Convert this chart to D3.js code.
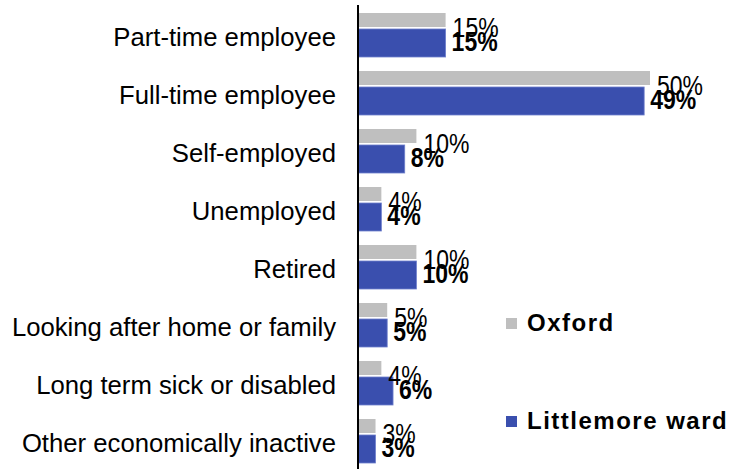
<!DOCTYPE html>
<html>
<head>
<meta charset="utf-8">
<script src="https://cdn.jsdelivr.net/npm/d3@7"></script>
<style>
  body { margin: 0; background: #fff; }
  svg { display: block; font-family: "Liberation Sans", Arial, sans-serif; }
</style>
</head>
<body>
<svg width="729" height="469"></svg>
<script>
// Data
var categories = [
  "Part-time employee",
  "Full-time employee",
  "Self-employed",
  "Unemployed",
  "Retired",
  "Looking after home or family",
  "Long term sick or disabled",
  "Other economically inactive"
];
var oxford = [15, 50, 10, 4, 10, 5, 4, 3];
var littlemore = [15, 49, 8, 4, 10, 5, 6, 3];
var seriesNames = ["Oxford", "Littlemore ward"];
var colors = ["#bfbfbf", "#3a4fae"];

var svg = d3.select("svg");

// scales
var y = d3.scaleBand()
  .domain(categories)
  .range([9, 473]);

var x = d3.scaleLinear()
  .domain([0, 50])
  .range([358, 650]);

var rows = categories.map(function(c, i) {
  return {cat: c, ox: oxford[i], lw: littlemore[i]};
});

// Oxford bars (thin)
svg.selectAll("rect.ox")
  .data(rows)
  .enter()
  .append("rect")
  .attr("class", "ox")
  .attr("x", x(0))
  .attr("y", function(d) { return y(d.cat) + 4; })
  .attr("width", function(d) { return x(d.ox) - x(0); })
  .attr("height", 14)
  .attr("fill", colors[0]);

// Littlemore bars (thick)
svg.selectAll("rect.lw")
  .data(rows)
  .enter()
  .append("rect")
  .attr("class", "lw")
  .attr("x", x(0))
  .attr("y", function(d) { return y(d.cat) + 20; })
  .attr("width", function(d) { return x(d.lw) - x(0); })
  .attr("height", 28)
  .attr("fill", colors[1])
  .attr("stroke", "#6f7fcc")
  .attr("stroke-width", 0.8);

// value labels (text a bit taller than wide, like the original)
svg.selectAll("text.oxv")
  .data(rows)
  .enter()
  .append("text")
  .attr("class", "oxv")
  .attr("transform", function(d) {
    return "translate(" + (x(d.ox) + 7) + "," + (y(d.cat) + y.bandwidth() / 2 - 1.5) + ") scale(1,1.22)";
  })
  .attr("font-size", "23px")
  .attr("fill", "#000")
  .text(function(d) { return d.ox + "%"; });

svg.selectAll("text.lwv")
  .data(rows)
  .enter()
  .append("text")
  .attr("class", "lwv")
  .attr("transform", function(d) {
    return "translate(" + (x(d.lw) + 6) + "," + (y(d.cat) + y.bandwidth() / 2 + 13) + ") scale(1,1.22)";
  })
  .attr("font-size", "23px")
  .attr("font-weight", "bold")
  .attr("fill", "#000")
  .text(function(d) { return d.lw + "%"; });

// category axis
var yAxis = svg.append("g")
  .attr("transform", "translate(" + 358 + ",0)")
  .call(d3.axisLeft(y).tickSize(0).tickPadding(22));
yAxis.select(".domain").remove();
yAxis.selectAll("text")
  .attr("font-size", "25.7px")
  .attr("font-family", "Liberation Sans, Arial, sans-serif")
  .attr("fill", "#000")
  .attr("dy", "0.32em");

svg.append("line")
  .attr("x1", 358).attr("x2", 358)
  .attr("y1", 5).attr("y2", 469)
  .attr("stroke", "#000")
  .attr("stroke-width", 2);

// legend
var legend = svg.selectAll("g.legend")
  .data(seriesNames)
  .enter()
  .append("g")
  .attr("class", "legend")
  .attr("transform", function(d, i) { return "translate(506," + (318 + i * 98) + ")"; });

legend.append("rect")
  .attr("width", 11)
  .attr("height", 11)
  .attr("fill", function(d, i) { return colors[i]; });

legend.append("text")
  .attr("x", 21)
  .attr("y", 13)
  .attr("font-size", "24px")
  .attr("font-weight", "bold")
  .attr("letter-spacing", "1.5px")
  .attr("fill", "#000")
  .text(function(d) { return d; });
</script>
</body>
</html>
